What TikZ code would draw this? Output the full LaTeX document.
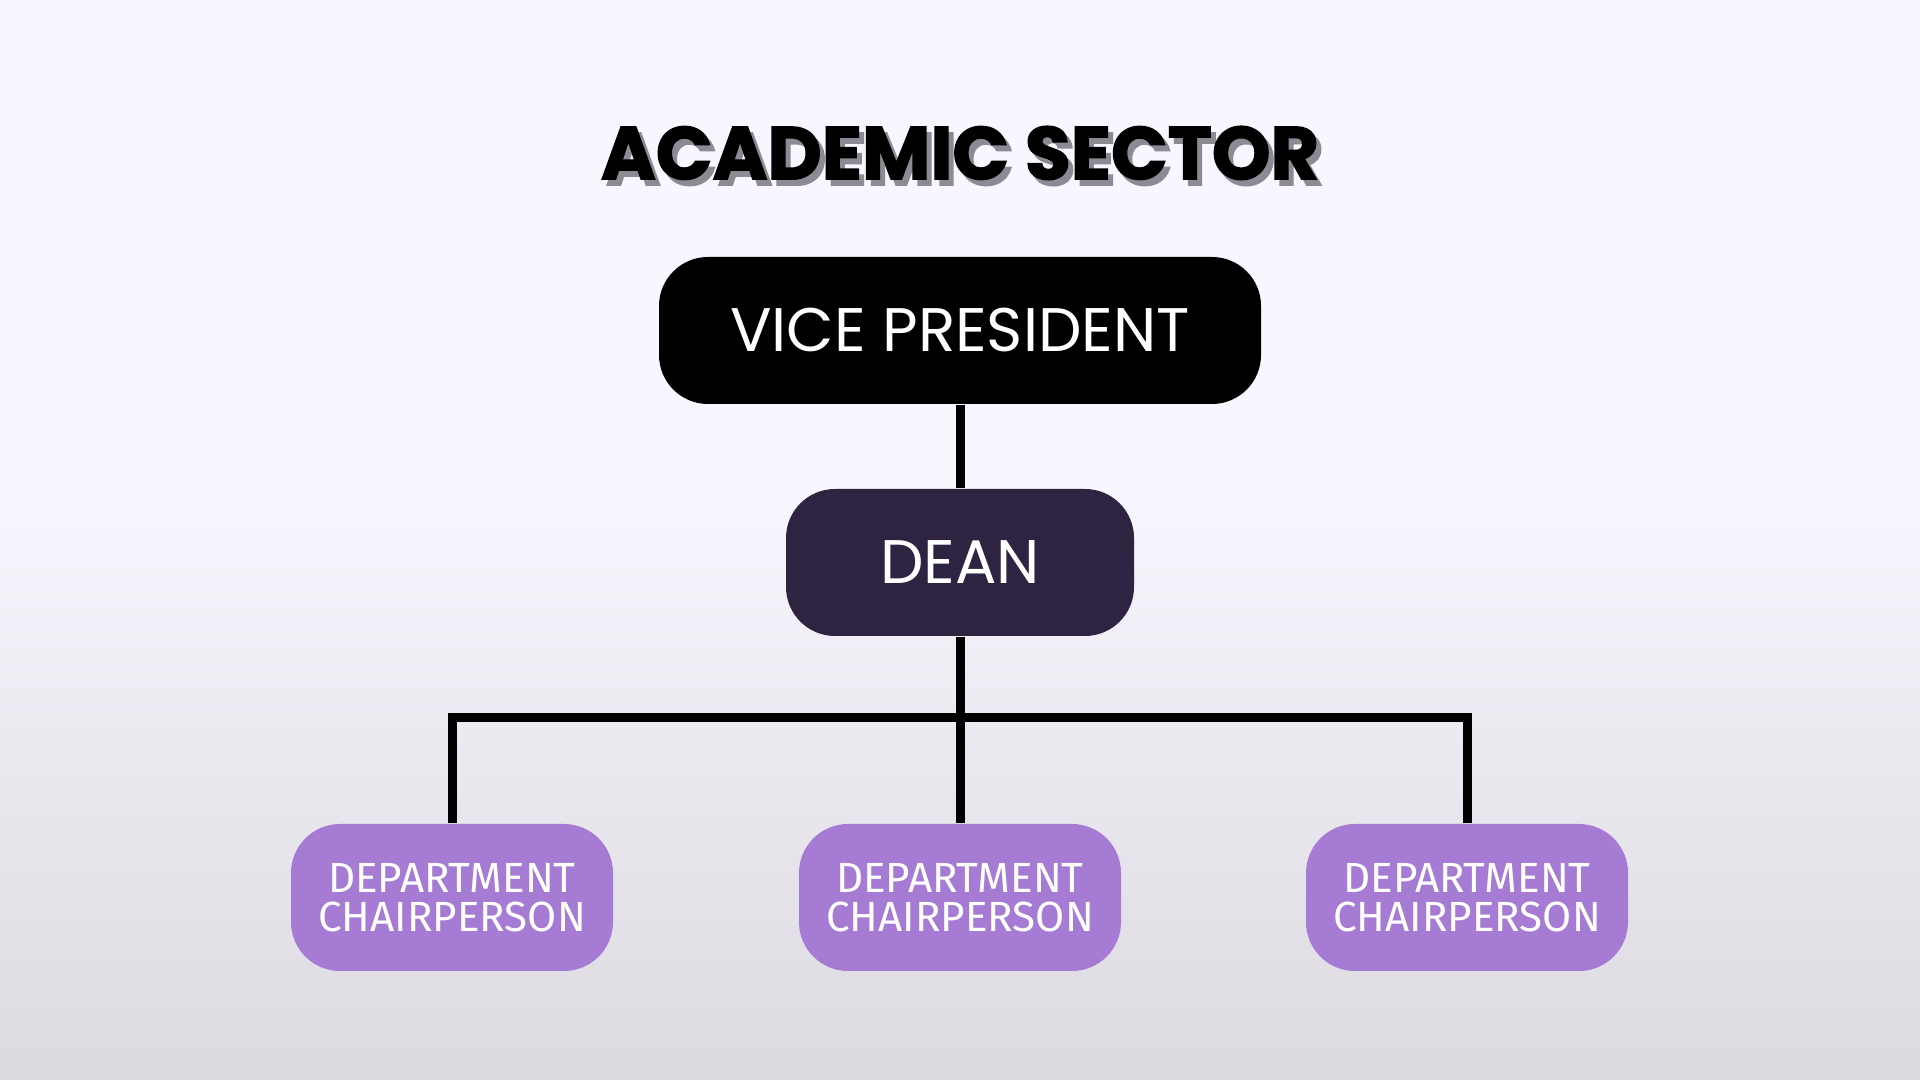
\documentclass[tikz,border=0pt]{standalone}
\usepackage{fontspec}
\usepackage{tikz}
\setmainfont{Poppins}
\newfontfamily\titlefont{Poppins}[FakeBold=2]
\newfontfamily\chairfont{Fira Sans}
\definecolor{deanpurple}{HTML}{2E2340}
\definecolor{chairlilac}{HTML}{A67BD4}
\definecolor{shadowgray}{HTML}{8E8A93}
\definecolor{bgtop}{HTML}{F8F6FE}
\definecolor{bgmid}{HTML}{F5F3FB}
\definecolor{bgbottom}{HTML}{DCD9E0}

\begin{document}
\begin{tikzpicture}[auto,scale=1.0]
    \tikzstyle{box}=[rectangle,rounded corners=0.49cm,inner sep=0pt,minimum height=1.47cm,text=white,align=center]
    \tikzstyle{chair}=[box,fill=chairlilac,minimum width=3.22cm,font=\chairfont\fontsize{12}{11.1}\selectfont]
    \tikzstyle{link}=[line width=2.56pt,black]
    \tikzstyle{heading}=[font=\titlefont\bfseries\fontsize{21.2}{24}\selectfont]
    % background
    \fill [bgtop] (0,0) rectangle (19.2,10.8);
    \shade [top color=bgtop,middle color=bgmid,bottom color=bgbottom] (0,0) rectangle (19.2,6.0);
    \useasboundingbox (0,0) rectangle (19.2,10.8);
    % title
    \node (shadow) at (9.65,9.21) [heading,text=shadowgray] {ACADEMIC SECTOR};
    \node (title)  at (9.60,9.27) [heading,text=black] {ACADEMIC SECTOR};
    % boxes
    \node (vp)     at (9.60,7.495) [box,fill=black,minimum width=6.02cm,font=\fontsize{17.5}{20}\selectfont] {VICE PRESIDENT};
    \node (dean)   at (9.60,5.175) [box,fill=deanpurple,minimum width=3.48cm,font=\fontsize{17.5}{20}\selectfont] {DEAN};
    \node (chair1) at (4.52,1.825) [chair] {DEPARTMENT\\CHAIRPERSON};
    \node (chair2) at (9.60,1.825) [chair] {DEPARTMENT\\CHAIRPERSON};
    \node (chair3) at (14.67,1.825) [chair] {DEPARTMENT\\CHAIRPERSON};
    \coordinate (bus) at (9.60,3.624);
    % connectors
    \draw [link] (vp.south) -- (dean.north);
    \draw [link] (dean.south) -- (chair2.north);
    \draw [link] (chair1.north) |- (bus) -| (chair3.north);
\end{tikzpicture}
\end{document}
